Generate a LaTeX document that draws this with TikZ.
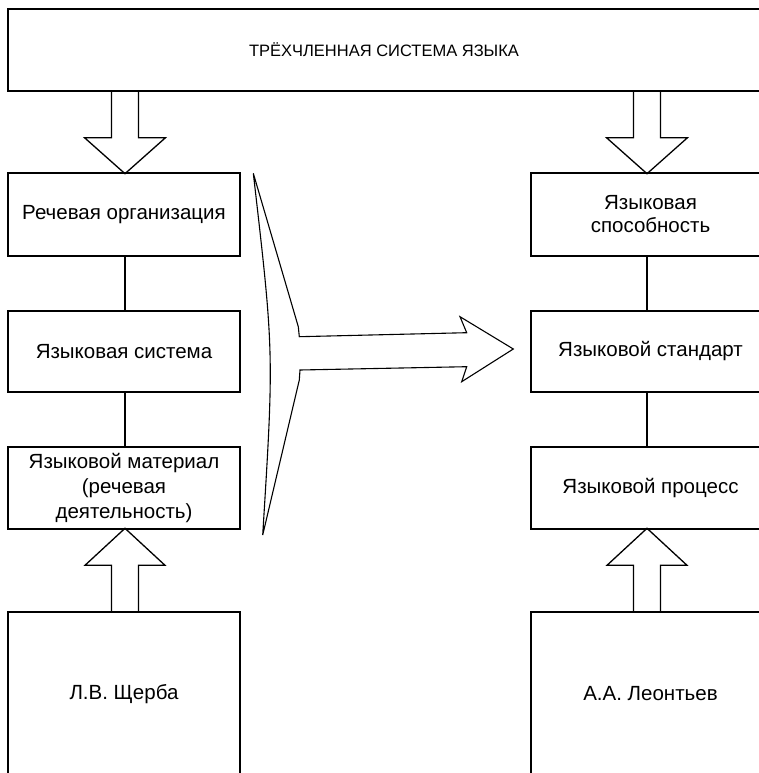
\documentclass[tikz,border=0pt]{standalone}
\usepackage{fontspec}
\setmainfont{Liberation Sans}
\usetikzlibrary{calc}
\begin{document}
\begin{tikzpicture}[x=1pt,y=-1pt,
  box/.style={draw=black, line width=1.4pt, inner sep=0pt, align=center, font=\fontsize{20.5}{24}\selectfont},
  conn/.style={draw=black, line width=1.3pt},
  blk/.style={draw=black, line width=1.3pt, line join=miter},
  pics/downarr/.style={code={\draw[blk] (-13.5,0) -- (-13.5,46) -- (-40.5,46) -- (0,82) -- (40.5,46) -- (13.5,46) -- (13.5,0);}},
  pics/uparr/.style={code={\draw[blk] (-13.5,0) -- (-13.5,-46) -- (-40,-46) -- (0,-83) -- (40,-46) -- (13.5,-46) -- (13.5,0);}},
]
\useasboundingbox (0,0) rectangle (758,773);
\node[box, minimum width=812pt, minimum height=82pt] (top) at (414,50) {};
\node[font=\fontsize{16.5}{19}\selectfont, inner sep=0pt] (toptext) at (384,50) {ТРЁХЧЛЕННАЯ СИСТЕМА ЯЗЫКА};
% left column
\node[box, minimum width=232pt, minimum height=83pt] (ro) at (124,214.5) {Речевая организация};
\node[box, minimum width=232pt, minimum height=81pt] (ls) at (124,351.5) {Языковая система};
\node[box, minimum width=232pt, minimum height=82pt, font=\fontsize{20.5}{25}\selectfont] (lm) at (124,488) {Языковой материал\\(речевая\\деятельность)};
\node[box, minimum width=232pt, minimum height=164pt] (sh) at (124,694) {Л.В. Щерба};
% right column
\node[box, minimum width=239pt, minimum height=83pt, font=\fontsize{20.5}{23}\selectfont] (sp) at (650.5,214.5) {Языковая\\способность};
\node[box, minimum width=239pt, minimum height=81pt] (st) at (650.5,351.5) {Языковой стандарт};
\node[box, minimum width=239pt, minimum height=82pt] (pr) at (650.5,488) {Языковой процесс};
\node[box, minimum width=239pt, minimum height=164pt] (le) at (650.5,694) {А.А. Леонтьев};
\coordinate (lx) at (125,0);
\coordinate (rx) at (647,0);
% connectors
\draw[conn] (ro.south -| lx) -- (ls.north -| lx);
\draw[conn] (ls.south -| lx) -- (lm.north -| lx);
\draw[conn] (sp.south -| rx) -- (st.north -| rx);
\draw[conn] (st.south -| rx) -- (pr.north -| rx);
% block arrows
\pic at (top.south -| lx) {downarr};
\pic at (top.south -| rx) {downarr};
\pic at (sh.north -| lx) {uparr};
\pic at (le.north -| rx) {uparr};
% big transfer arrow
\draw[blk, line width=1.1pt] (253.3,173.3) -- (298.3,326.7) -- (299.3,336.7) -- (466.7,332.7) -- (460,316.7) -- (513.3,349) -- (461.7,381.7) -- (466.7,366.7) -- (300,370) -- (299.3,380) -- (262.7,535) .. controls (274,352.7) .. (253.3,173.3) -- cycle;
\end{tikzpicture}
\end{document}
